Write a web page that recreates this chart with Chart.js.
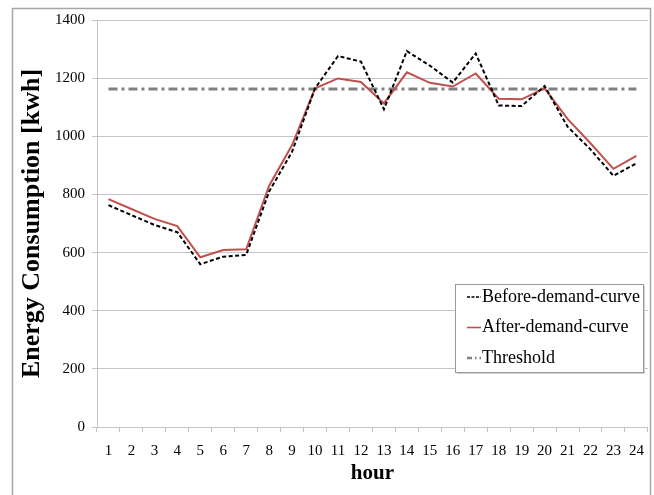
<!DOCTYPE html>
<html>
<head>
<meta charset="utf-8">
<script src="https://cdn.jsdelivr.net/npm/chart.js@4.4.1/dist/chart.umd.min.js"></script>
<style>
  html, body { margin: 0; padding: 0; background: #fff; }
  #wrap { position: relative; width: 654px; height: 495px; }
</style>
</head>
<body>
<div id="wrap"><canvas id="energyChart" width="654" height="495"></canvas></div>
<script>
// ==== data ====
const hours = ['1','2','3','4','5','6','7','8','9','10','11','12','13','14','15','16','17','18','19','20','21','22','23','24'];
const beforeCurve = [763, 729, 695, 670, 560, 586, 592, 810, 947, 1165, 1276, 1257, 1093, 1293, 1243, 1185, 1285, 1106, 1104, 1173, 1033, 955, 864, 907];
const afterCurve  = [784, 750, 716, 691, 584, 609, 611, 830, 970, 1165, 1199, 1187, 1113, 1220, 1184, 1171, 1216, 1129, 1127, 1165, 1060, 976, 888, 933];
const thresholdValue = 1163;
const threshold = hours.map(() => thresholdValue);
const yTicks = [0, 200, 400, 600, 800, 1000, 1200, 1400];

const serif = "'Liberation Serif', 'Times New Roman', serif";
const gridGray = '#c4c4c4';

// outer frame round the whole picture
const framePlugin = {
  id: 'frame',
  beforeDraw(chart) {
    const ctx = chart.ctx;
    ctx.save();
    ctx.fillStyle = '#fff';
    ctx.fillRect(0, 0, chart.width, chart.height);
    ctx.strokeStyle = '#a6a6a6';
    ctx.lineWidth = 1.5;
    ctx.strokeRect(12.5, 8.5, 638, 600);
    ctx.restore();
  }
};

// legend box inside the plot (bottom right)
const boxLegend = {
  id: 'boxLegend',
  afterDraw(chart) {
    const ctx = chart.ctx;
    const x0 = 455, y0 = 284, w = 188, h = 88;
    ctx.save();
    ctx.fillStyle = '#fff';
    ctx.fillRect(x0, y0, w, h);
    ctx.strokeStyle = '#9a9a9a';
    ctx.lineWidth = 1;
    ctx.strokeRect(x0 + 0.5, y0 + 0.5, w, h);
    ctx.strokeStyle = '#d0d0d0';
    ctx.beginPath();
    ctx.moveTo(x0 + 2, y0 + h + 1.5); ctx.lineTo(x0 + w + 1.5, y0 + h + 1.5); ctx.lineTo(x0 + w + 1.5, y0 + 2);
    ctx.stroke();
    ctx.font = '18px ' + serif;
    ctx.textBaseline = 'middle';
    ctx.fillStyle = '#000';
    chart.data.datasets.forEach((ds, i) => {
      const cy = y0 + 13 + i * 30.5;
      ctx.beginPath();
      ctx.strokeStyle = ds.borderColor;
      ctx.lineWidth = i === 2 ? 2.5 : 1.6;
      ctx.setLineDash(i === 0 ? [3, 1.5] : (i === 2 ? [5, 3, 1.5, 3] : []));
      ctx.moveTo(467, cy);
      ctx.lineTo(481, cy);
      ctx.stroke();
      ctx.setLineDash([]);
      ctx.fillText(ds.label, 482, cy);
    });
    ctx.restore();
  }
};

new Chart(document.getElementById('energyChart'), {
  type: 'line',
  data: {
    labels: hours,
    datasets: [
      { label: 'Before-demand-curve', data: beforeCurve, borderColor: '#000', borderWidth: 2, borderDash: [4, 2.5], pointRadius: 0, tension: 0, fill: false },
      { label: 'After-demand-curve', data: afterCurve, borderColor: '#c0504d', borderWidth: 2, pointRadius: 0, tension: 0, fill: false },
      { label: 'Threshold', data: threshold, borderColor: '#808080', borderWidth: 3, borderDash: [9, 4, 3, 4], pointRadius: 0, tension: 0, fill: false }
    ]
  },
  options: {
    responsive: false,
    animation: false,
    events: [],
    layout: { padding: { left: 0, right: 5, top: 20, bottom: 0 } },
    plugins: {
      legend: { display: false },
      tooltip: { enabled: false }
    },
    scales: {
      x: {
        offset: true,
        grid: { offset: true, drawOnChartArea: false, drawTicks: true, tickLength: 5, color: gridGray },
        border: { display: true, color: gridGray },
        ticks: { color: '#000', font: { family: serif, size: 15 }, padding: 10, maxRotation: 0, autoSkip: false },
        title: { display: true, text: 'hour', color: '#000', font: { family: serif, size: 21, weight: 'bold' }, padding: { top: 0, bottom: 9 } },
        afterFit(scale) { scale.height = 68; }
      },
      y: {
        min: 0,
        max: 1400,
        afterBuildTicks(scale) { scale.ticks = yTicks.map(v => ({ value: v })); },
        grid: { color: gridGray, drawTicks: true, tickLength: 5 },
        border: { display: true, color: gridGray },
        ticks: { color: '#000', font: { family: serif, size: 15 }, padding: 7, callback: v => String(v) },
        title: { display: true, text: 'Energy Consumption [kwh]', color: '#000', font: { family: serif, size: 26, weight: 'bold' }, padding: { top: 17, bottom: 0 } },
        afterFit(scale) { scale.width = 97; }
      }
    }
  },
  plugins: [framePlugin, boxLegend]
});
</script>
</body>
</html>
